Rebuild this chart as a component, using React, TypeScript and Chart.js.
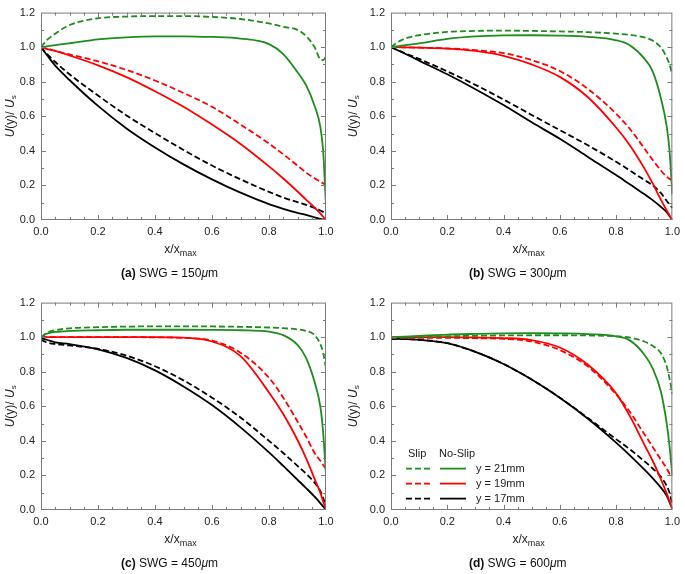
import React, { useEffect, useRef } from "react";
import { Chart, registerables } from "chart.js";

Chart.register(...registerables);

// ---------- data ----------
const X_FRACTION = [0, 0.02, 0.05, 0.1, 0.2, 0.3, 0.4, 0.5, 0.6, 0.7, 0.8, 0.85, 0.9, 0.93, 0.96, 0.98, 0.99, 1.0];
const X_TICKS = [0, 0.2, 0.4, 0.6, 0.8, 1.0];
const Y_TICKS = [0, 0.2, 0.4, 0.6, 0.8, 1.0, 1.2];
const POSITIONS = ["y = 21mm", "y = 19mm", "y = 17mm"];
const PANEL_LETTERS = ["(a)", "(b)", "(c)", "(d)"];
const SWG_VALUES = ["150", "300", "450", "600"];

// (a) SWG = 150 um
const A_SLIP_21 = [1.0, 1.04, 1.078, 1.128, 1.167, 1.177, 1.18, 1.18, 1.175, 1.163, 1.137, 1.118, 1.1, 1.065, 1.0, 0.93, 0.925, 0.945];
const A_NOSLIP_21 = [1.0, 1.005, 1.012, 1.022, 1.045, 1.057, 1.063, 1.063, 1.059, 1.05, 1.018, 0.96, 0.855, 0.78, 0.66, 0.54, 0.4, 0.08];
const A_SLIP_19 = [1.0, 0.992, 0.978, 0.958, 0.918, 0.868, 0.807, 0.735, 0.655, 0.552, 0.442, 0.38, 0.315, 0.274, 0.242, 0.222, 0.212, 0.2];
const A_NOSLIP_19 = [1.0, 0.99, 0.978, 0.952, 0.895, 0.827, 0.745, 0.655, 0.552, 0.44, 0.31, 0.24, 0.165, 0.118, 0.072, 0.038, 0.019, 0.0];
const A_SLIP_17 = [1.0, 0.963, 0.914, 0.843, 0.72, 0.605, 0.503, 0.405, 0.315, 0.235, 0.163, 0.13, 0.103, 0.088, 0.07, 0.055, 0.047, 0.04];
const A_NOSLIP_17 = [1.0, 0.956, 0.893, 0.81, 0.66, 0.53, 0.42, 0.322, 0.235, 0.158, 0.092, 0.065, 0.041, 0.029, 0.015, 0.007, 0.003, 0.0];

// (b) SWG = 300 um
const B_SLIP_21 = [1.0, 1.025, 1.05, 1.069, 1.088, 1.094, 1.096, 1.094, 1.091, 1.087, 1.078, 1.071, 1.057, 1.038, 0.997, 0.94, 0.9, 0.84];
const B_NOSLIP_21 = [1.0, 1.005, 1.012, 1.022, 1.048, 1.062, 1.068, 1.069, 1.067, 1.06, 1.04, 1.01, 0.935, 0.86, 0.7, 0.54, 0.4, 0.15];
const B_SLIP_19 = [1.0, 1.0, 0.999, 0.997, 0.993, 0.983, 0.965, 0.925, 0.862, 0.758, 0.615, 0.525, 0.415, 0.348, 0.285, 0.25, 0.238, 0.23];
const B_NOSLIP_19 = [1.0, 1.0, 0.999, 0.997, 0.992, 0.978, 0.95, 0.9, 0.828, 0.71, 0.535, 0.43, 0.3, 0.212, 0.115, 0.055, 0.027, 0.0];
const B_SLIP_17 = [1.0, 0.985, 0.965, 0.932, 0.86, 0.782, 0.697, 0.608, 0.52, 0.432, 0.337, 0.285, 0.232, 0.2, 0.155, 0.11, 0.09, 0.07];
const B_NOSLIP_17 = [1.0, 0.985, 0.962, 0.922, 0.843, 0.757, 0.665, 0.565, 0.47, 0.365, 0.26, 0.205, 0.15, 0.115, 0.075, 0.045, 0.023, 0.0];

// (c) SWG = 450 um
const C_SLIP_21 = [1.0, 1.025, 1.04, 1.051, 1.058, 1.061, 1.063, 1.063, 1.062, 1.06, 1.056, 1.052, 1.045, 1.036, 1.012, 0.96, 0.91, 0.82];
const C_NOSLIP_21 = [1.0, 1.02, 1.03, 1.036, 1.04, 1.043, 1.043, 1.043, 1.042, 1.04, 1.032, 1.012, 0.955, 0.88, 0.74, 0.6, 0.45, 0.2];
const C_SLIP_19 = [1.0, 1.0, 1.0, 1.0, 1.0, 1.0, 0.999, 0.996, 0.98, 0.91, 0.765, 0.65, 0.512, 0.425, 0.33, 0.285, 0.26, 0.24];
const C_NOSLIP_19 = [1.0, 1.0, 1.0, 1.0, 1.0, 1.0, 1.0, 0.997, 0.975, 0.89, 0.68, 0.555, 0.405, 0.3, 0.18, 0.1, 0.05, 0.0];
const C_SLIP_17 = [0.985, 0.97, 0.96, 0.952, 0.932, 0.893, 0.832, 0.75, 0.65, 0.535, 0.4, 0.33, 0.255, 0.21, 0.158, 0.11, 0.07, 0.02];
const C_NOSLIP_17 = [0.995, 0.985, 0.97, 0.96, 0.93, 0.88, 0.808, 0.715, 0.607, 0.478, 0.333, 0.255, 0.175, 0.127, 0.077, 0.04, 0.02, 0.0];

// (d) SWG = 600 um
const D_SLIP_21 = [0.997, 0.998, 1.0, 1.002, 1.005, 1.008, 1.01, 1.011, 1.011, 1.01, 1.005, 0.998, 0.975, 0.95, 0.905, 0.83, 0.76, 0.67];
const D_NOSLIP_21 = [1.0, 1.001, 1.003, 1.007, 1.015, 1.019, 1.022, 1.023, 1.022, 1.018, 1.005, 0.98, 0.9, 0.82, 0.68, 0.5, 0.37, 0.2];
const D_SLIP_19 = [0.996, 0.996, 0.996, 0.996, 0.996, 0.994, 0.99, 0.975, 0.925, 0.83, 0.67, 0.565, 0.44, 0.365, 0.29, 0.24, 0.21, 0.2];
const D_NOSLIP_19 = [1.0, 1.0, 1.0, 1.0, 1.0, 0.998, 0.995, 0.983, 0.94, 0.84, 0.675, 0.54, 0.38, 0.285, 0.175, 0.095, 0.05, 0.0];
const D_SLIP_17 = [0.99, 0.99, 0.989, 0.985, 0.965, 0.915, 0.845, 0.755, 0.65, 0.532, 0.41, 0.35, 0.283, 0.24, 0.19, 0.14, 0.1, 0.03];
const D_NOSLIP_17 = [0.99, 0.99, 0.989, 0.985, 0.965, 0.915, 0.845, 0.755, 0.65, 0.528, 0.39, 0.315, 0.235, 0.184, 0.128, 0.082, 0.045, 0.01];

const PANEL_DATA = [
  [A_SLIP_21, A_NOSLIP_21, A_SLIP_19, A_NOSLIP_19, A_SLIP_17, A_NOSLIP_17],
  [B_SLIP_21, B_NOSLIP_21, B_SLIP_19, B_NOSLIP_19, B_SLIP_17, B_NOSLIP_17],
  [C_SLIP_21, C_NOSLIP_21, C_SLIP_19, C_NOSLIP_19, C_SLIP_17, C_NOSLIP_17],
  [D_SLIP_21, D_NOSLIP_21, D_SLIP_19, D_NOSLIP_19, D_SLIP_17, D_NOSLIP_17],
];

// ---------- styles / layout ----------
const COLORS = ["#1e8c1e", "#ff0000", "#000000"];
const FONT = '"Liberation Sans", Arial, Helvetica, sans-serif';
const FRAME = "#7a7a7a";
const LINE_W = 1.8;
const LAYOUT = [
  { left: 0, top: 0, w: 342, h: 287, axisW: 41, plotW: 285 },
  { left: 343, top: 0, w: 342, h: 287, axisW: 48, plotW: 284 },
  { left: 0, top: 290, w: 342, h: 284, axisW: 41, plotW: 285 },
  { left: 343, top: 290, w: 342, h: 284, axisW: 48, plotW: 284 },
];

type Part = { t: string; f: string; dy?: number };

function drawParts(ctx: CanvasRenderingContext2D, parts: Part[], cx: number, y: number) {
  let w = 0;
  for (const p of parts) {
    ctx.font = p.f;
    w += ctx.measureText(p.t).width;
  }
  let x = cx - w / 2;
  ctx.textAlign = "left";
  ctx.textBaseline = "alphabetic";
  for (const p of parts) {
    ctx.font = p.f;
    ctx.fillText(p.t, x, y + (p.dy || 0));
    x += ctx.measureText(p.t).width;
  }
}

function makeDecor(index: number) {
  return {
    id: "decor" + index,
    afterDatasetsDraw(chart: any) {
      const ctx: CanvasRenderingContext2D = chart.ctx;
      const a = chart.chartArea;
      const xs = chart.scales.x;
      const ys = chart.scales.y;
      ctx.save();
      // frame
      ctx.strokeStyle = FRAME;
      ctx.lineWidth = 1;
      ctx.strokeRect(a.left + 0.5, a.top + 0.5, a.right - a.left - 1, a.bottom - a.top - 1);
      // inward ticks, mirrored on all four sides
      ctx.beginPath();
      for (let i = 1; i < 20; i++) {
        const px = Math.round(xs.getPixelForValue(i / 20)) + 0.5;
        const len = i % 4 === 0 ? 5 : 3;
        ctx.moveTo(px, a.bottom);
        ctx.lineTo(px, a.bottom - len);
        ctx.moveTo(px, a.top);
        ctx.lineTo(px, a.top + len);
      }
      for (let i = 1; i < 12; i++) {
        const py = Math.round(ys.getPixelForValue(i / 10)) + 0.5;
        const len = i % 2 === 0 ? 5 : 3;
        ctx.moveTo(a.left, py);
        ctx.lineTo(a.left + len, py);
        ctx.moveTo(a.right, py);
        ctx.lineTo(a.right - len, py);
      }
      ctx.stroke();

      ctx.fillStyle = "#222";
      // x axis title
      const cx = (a.left + a.right) / 2;
      drawParts(
        ctx,
        [
          { t: "x/x", f: `12px ${FONT}` },
          { t: "max", f: `9px ${FONT}`, dy: 3 },
        ],
        cx - 3,
        a.bottom + 33
      );
      // y axis title
      ctx.save();
      ctx.translate(13.5, (a.top + a.bottom) / 2);
      ctx.rotate(-Math.PI / 2);
      drawParts(
        ctx,
        [
          { t: "U", f: `italic 12px ${FONT}` },
          { t: "(y)/ ", f: `12px ${FONT}` },
          { t: "U", f: `italic 12px ${FONT}` },
          { t: "s", f: `8px ${FONT}`, dy: 2 },
        ],
        0,
        0
      );
      ctx.restore();
      // caption
      ctx.fillStyle = "#111";
      drawParts(
        ctx,
        [
          { t: PANEL_LETTERS[index] + " ", f: `bold 12px ${FONT}` },
          { t: "SWG = " + SWG_VALUES[index], f: `12px ${FONT}` },
          { t: "\u03bc", f: `italic 12px ${FONT}` },
          { t: "m", f: `12px ${FONT}` },
        ],
        cx - 14,
        a.bottom + 57
      );

      // legend (panel d only)
      if (index === 3) {
        const L = a.left;
        const T = a.top;
        ctx.fillStyle = "#222";
        ctx.font = `11px ${FONT}`;
        ctx.textAlign = "left";
        ctx.textBaseline = "middle";
        ctx.fillText("Slip", L + 17, T + 151);
        ctx.fillText("No-Slip", L + 48, T + 151);
        const ds = chart.data.datasets;
        for (let r = 0; r < 3; r++) {
          const yy = T + 166 + r * 15;
          const slip = ds[r * 2];
          const noslip = ds[r * 2 + 1];
          ctx.lineWidth = LINE_W;
          ctx.strokeStyle = slip.borderColor;
          ctx.setLineDash([6, 3]);
          ctx.beginPath();
          ctx.moveTo(L + 15, yy);
          ctx.lineTo(L + 40, yy);
          ctx.stroke();
          ctx.setLineDash([]);
          ctx.strokeStyle = noslip.borderColor;
          ctx.beginPath();
          ctx.moveTo(L + 49, yy);
          ctx.lineTo(L + 75, yy);
          ctx.stroke();
          ctx.fillStyle = "#222";
          ctx.fillText(POSITIONS[r], L + 85, yy);
        }
      }
      ctx.restore();
    },
  };
}

function buildConfig(index: number): any {
  const { w, h, axisW, plotW } = LAYOUT[index];
  const series = PANEL_DATA[index];
  const datasets = series.map((vals, k) => {
    const slip = k % 2 === 0;
    const row = Math.floor(k / 2);
    return {
      label: (slip ? "Slip " : "No-Slip ") + POSITIONS[row],
      data: vals.map((v, i) => ({ x: X_FRACTION[i], y: v })),
      borderColor: COLORS[row],
      backgroundColor: COLORS[row],
      borderWidth: LINE_W,
      borderDash: slip ? [6, 3] : [],
      pointRadius: 0,
      fill: false,
      cubicInterpolationMode: "monotone",
    };
  });
  const tickFont = { family: FONT, size: 11 };
  return {
    type: "line",
    data: { datasets },
    options: {
      responsive: false,
      animation: false,
      devicePixelRatio: 1,
      layout: { padding: { top: 7, right: w - axisW - plotW, left: 0, bottom: 0 } },
      plugins: { legend: { display: false }, tooltip: { enabled: false } },
      scales: {
        x: {
          type: "linear",
          min: 0,
          max: 1,
          afterBuildTicks: (s: any) => {
            s.ticks = X_TICKS.map((v) => ({ value: v }));
          },
          afterFit: (s: any) => {
            s.height = h - 220;
          },
          ticks: {
            font: tickFont,
            color: "#222",
            padding: 5,
            maxRotation: 0,
            callback: (v: any) => Number(v).toFixed(1),
          },
          grid: { display: false, drawTicks: false, tickLength: 0 },
          border: { display: false },
        },
        y: {
          type: "linear",
          min: 0,
          max: 1.2,
          afterBuildTicks: (s: any) => {
            s.ticks = Y_TICKS.map((v) => ({ value: v }));
          },
          afterFit: (s: any) => {
            s.width = axisW;
          },
          ticks: {
            font: tickFont,
            color: "#222",
            padding: 6,
            callback: (v: any) => Number(v).toFixed(1),
          },
          grid: { display: false, drawTicks: false, tickLength: 0 },
          border: { display: false },
        },
      },
    },
    plugins: [makeDecor(index)],
  };
}

function Panel({ index }: { index: number }) {
  const ref = useRef<HTMLCanvasElement>(null);
  const { left, top, w, h } = LAYOUT[index];
  useEffect(() => {
    const chart = new Chart(ref.current as HTMLCanvasElement, buildConfig(index));
    return () => chart.destroy();
  }, [index]);
  return (
    <canvas
      ref={ref}
      width={w}
      height={h}
      style={{ position: "absolute", left, top, width: w, height: h }}
    />
  );
}

export default function App() {
  return (
    <div style={{ position: "absolute", left: 0, top: 0, width: 685, height: 574, background: "#fff" }}>
      {PANEL_DATA.map((_, i) => (
        <Panel key={i} index={i} />
      ))}
    </div>
  );
}
